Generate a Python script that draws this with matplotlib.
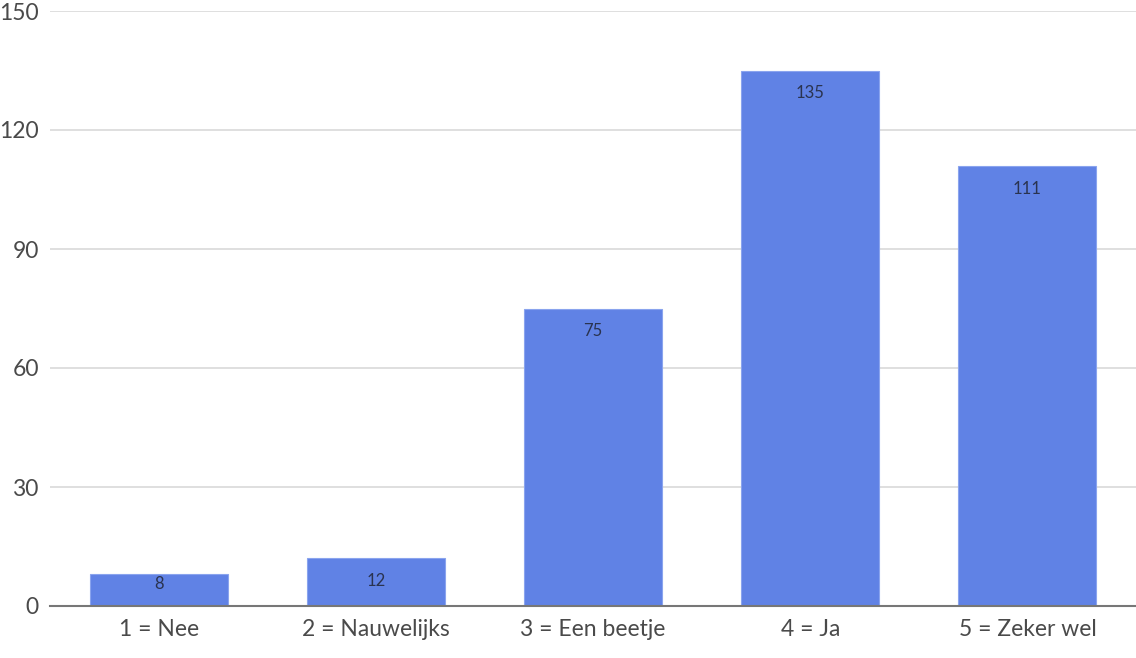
import matplotlib
matplotlib.use("Agg")
import matplotlib.pyplot as plt

categories = ["1 = Nee", "2 = Nauwelijks", "3 = Een beetje", "4 = Ja", "5 = Zeker wel"]
values = [8, 12, 75, 135, 111]
yticks = [0, 30, 60, 90, 120, 150]

plt.rcParams['font.family'] = ['Lato', 'DejaVu Sans']

fig = plt.figure(figsize=(11.36, 6.58), dpi=100)
ax = fig.add_axes([50/1136, 52/658, 1086/1136, 595/658])

x = list(range(len(categories)))
bars = ax.bar(x, values, width=0.636, color="#6082e5", edgecolor="#8aa4ee", linewidth=0.8, zorder=3)

ax.set_xlim(-0.5, 4.5)
ax.set_ylim(0, 150)

px_per_unit = 595 / 150
for xi, v in zip(x, values):
    bar_px = v * px_per_unit
    off_px = 23 if bar_px > 40 else bar_px * 0.31
    ax.annotate(str(v), xy=(xi, v), xytext=(0, -off_px * 0.72), textcoords="offset points",
                ha="center", va="center", fontsize=12, color="#2a3350", zorder=4)

ax.set_yticks(yticks)
ax.set_xticks(x)
ax.set_xticklabels(categories)
ax.grid(axis="y", color="#d9d9d9", linewidth=1.2, zorder=0)
for s in ["top", "right", "left"]:
    ax.spines[s].set_visible(False)
ax.spines["bottom"].set_color("#777777")
ax.spines["bottom"].set_linewidth(1.5)
ax.spines["bottom"].set_zorder(5)
ax.tick_params(axis="both", length=0, labelsize=16.5, labelcolor="#4a4a4a")
ax.tick_params(axis="x", pad=9)
ax.tick_params(axis="y", pad=8)

fig.savefig("out.png", dpi=100)
